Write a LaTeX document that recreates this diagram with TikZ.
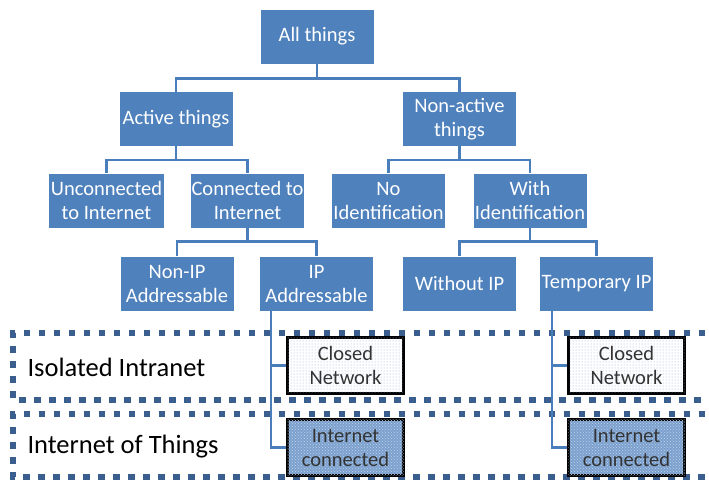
\documentclass[tikz,border=0pt]{standalone}
\usepackage{fontspec}
\setmainfont{Carlito}
\usetikzlibrary{positioning}
\usetikzlibrary{patterns}
\definecolor{thingblue}{HTML}{4F81BD}
\definecolor{linkblue}{HTML}{4A7EBB}
\definecolor{zoneblue}{HTML}{3A5F8E}
\definecolor{dotblue}{HTML}{8FAEDA}

\begin{document}
\begin{tikzpicture}[x=1pt, y=-1pt,
    thing/.style={fill=thingblue, text=white, align=center, inner sep=0pt,
        minimum width=113pt, minimum height=54pt, font=\fontsize{20.5}{24}\selectfont},
    conn/.style={draw=linkblue, line width=2.5pt},
    zone/.style={draw=zoneblue, line width=6.5pt, dash pattern=on 6.5pt off 8.5pt},
    closednet/.style={draw=black, line width=2.5pt, fill=white, align=center,
        minimum width=116pt, minimum height=56pt, inner sep=0pt, text=black!80,
        font=\fontsize{20.5}{24}\selectfont,
        postaction={pattern=dots, pattern color=dotblue}},
    inetnet/.style={closednet, fill=thingblue!75,
        postaction={pattern=crosshatch dots, pattern color=white!65!thingblue}}]
                \useasboundingbox (0,0) rectangle (709,482);
                \clip (0,0) rectangle (709,482);
                % the two zones
                \draw[zone] (720,333) -- (13,333) -- (13,400) -- (720,400);
                \draw[zone] (720,414) -- (13,414) -- (13,477) -- (720,477);
                \node[anchor=west, font=\fontsize{26.5}{30}\selectfont] (intra) at (24,367) {Isolated Intranet};
                \node[anchor=west, font=\fontsize{26.5}{30}\selectfont] (iot) at (24,447) {Internet of Things};
                % the tree
                \node[thing] (all) at (317,36.5) {All things};
                \node[thing] (act) at (176,119) {Active things};
                \node[thing] (nact) at (459.5,119) {Non-active\\things};
                \node[thing, minimum width=115pt] (uncon) at (106.5,200.5) {Unconnected\\to Internet};
                \node[thing] (con) at (247.5,200.5) {Connected to\\Internet};
                \node[thing] (noid) at (388.5,200.5) {No\\Identification};
                \node[thing] (withid) at (530,200.5) {With\\Identification};
                \node[thing] (nonip) at (177,283.5) {Non-IP\\Addressable};
                \node[thing] (ip) at (316.5,283.5) {IP\\Addressable};
                \node[thing] (noip) at (459.5,283.5) {Without IP};
                \node[thing] (tmpip) at (596.5,283.5) {Temporary IP};
                \draw[conn] (all.south) -- ++(0,15) -| (act.north);
                \draw[conn] (all.south) -- ++(0,15) -| (nact.north);
                \draw[conn] (act.south) -- ++(0,14) -| (uncon.north);
                \draw[conn] (act.south) -- ++(0,14) -| (con.north);
                \draw[conn] (nact.south) -- ++(0,14) -| (noid.north);
                \draw[conn] (nact.south) -- ++(0,14) -| (withid.north);
                \draw[conn] (con.south) -- ++(0,14) -| (nonip.north);
                \draw[conn] (con.south) -- ++(0,14) -| (ip.north);
                \draw[conn] (withid.south) -- ++(0,14) -| (noip.north);
                \draw[conn] (withid.south) -- ++(0,14) -| (tmpip.north);
                % the networks
                \node[closednet] (closeda) at (345.5,365.5) {Closed\\Network};
                \node[inetnet] (ineta) at (345.5,447.5) {Internet\\connected};
                \node[closednet] (closedb) at (626.5,365.5) {Closed\\Network};
                \node[inetnet] (inetb) at (626.5,447.5) {Internet\\connected};
                \draw[conn] (ip.south west) ++(11,0) |- (closeda.west);
                \draw[conn] (ip.south west) ++(11,0) |- (ineta.west);
                \draw[conn] (tmpip.south west) ++(12,0) |- (closedb.west);
                \draw[conn] (tmpip.south west) ++(12,0) |- (inetb.west);
            \end{tikzpicture}
\end{document}
